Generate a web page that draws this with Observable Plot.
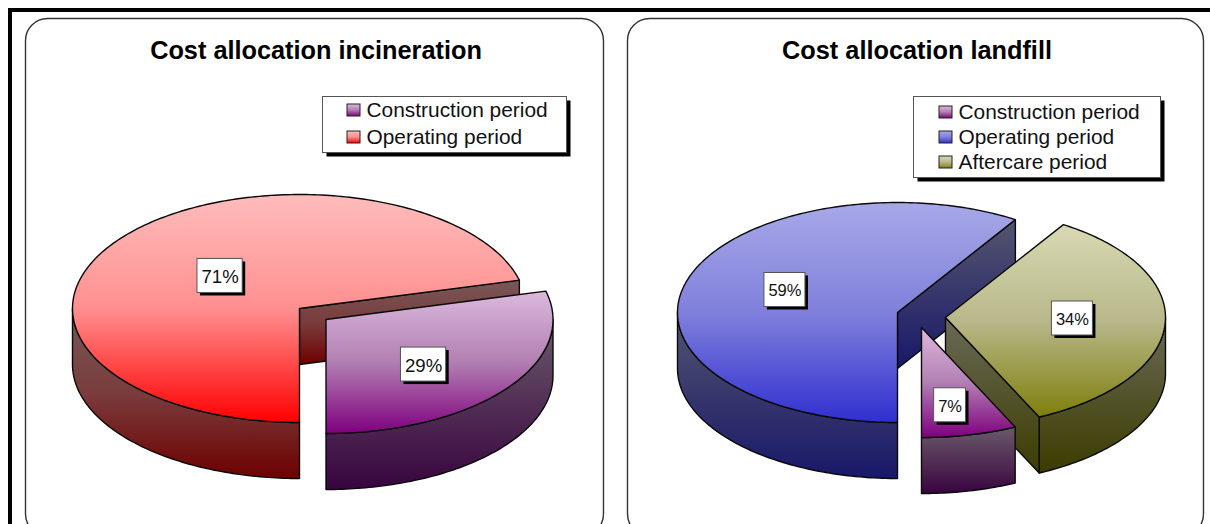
<!DOCTYPE html>
<html>
<head>
<meta charset="utf-8">
<script src="https://cdn.jsdelivr.net/npm/d3@7"></script>
<script src="https://cdn.jsdelivr.net/npm/@observablehq/plot@0.6"></script>
<style>
  html, body { margin: 0; padding: 0; background: #fff; }
  svg { display: block; }
</style>
</head>
<body>
<div id="chart"></div>
<script>
// Cost shares per period, in percent
const incinerationTitle = "Cost allocation incineration";
const incinerationPeriods = ["Construction period", "Operating period"];
const incinerationShares = [29, 71];

const landfillTitle = "Cost allocation landfill";
const landfillPeriods = ["Construction period", "Operating period", "Aftercare period"];
const landfillShares = [7, 59, 34];

// Face colours per period: top face and side wall, light to full
const palette = {
  "Construction period": {top: ["#dbb9dd", "#b27fb2", "#7f007f"], wall: ["#6b5a6b", "#38043f"]},
  "Operating period (incineration)": {top: ["#ffbcbc", "#ff8f8f", "#ff0000"], wall: ["#775858", "#7a3c3c", "#6e0000"]},
  "Operating period (landfill)": {top: ["#a8a8e8", "#8080dc", "#2f2fd0"], wall: ["#55556f", "#18186a"]},
  "Aftercare period": {top: ["#d9d9b4", "#b8b88a", "#7f7f0c"], wall: ["#6a6a58", "#3c3c00"]}
};

// Layout of the two pie panels, in pixels
const panels = [
  {
    title: incinerationTitle, periods: incinerationPeriods, shares: incinerationShares, key: ["Construction period", "Operating period (incineration)"],
    x1: 25.5, x2: 603.5, titleX: 315.5, rx: 227, ry: 114, depth: 56, labelFont: 18.6,
    placement: [
      {cx: 325.5, cy: 319, labelR: 0.584, turn: 4.8},
      {cx: 299, cy: 308, labelR: 0.4515, turn: 1.4}
    ],
    drawOrder: [1, 0],
    legend: {x1: 322.5, x2: 566.5, y1: 96.5, y2: 152.5, swatchX: 347, textX: 366, rows: [110, 137]}
  },
  {
    title: landfillTitle, periods: landfillPeriods, shares: landfillShares, key: ["Construction period", "Operating period (landfill)", "Aftercare period"],
    x1: 627.5, x2: 1203.5, titleX: 916.5, rx: 220, ry: 110, depth: 56, labelFont: 16.5,
    placement: [
      {cx: 921, cy: 327, labelR: 0.719, turn: 2.2},
      {cx: 897, cy: 312, labelR: 0.551, turn: 5.6},
      {cx: 945, cy: 317, labelR: 0.577, turn: -2.7}
    ],
    drawOrder: [1, 2, 0],
    legend: {x1: 913.5, x2: 1160.5, y1: 96.5, y2: 177.5, swatchX: 939, textX: 958, rows: [112, 137, 162]}
  }
];

const rad = (deg) => (deg * Math.PI) / 180;
const gradientId = (name, part) => `${part}-${name.replace(/[^a-z]+/gi, "-")}`;

// Turns shares into one exploded 3D wedge per period; the first wedge closes at due south.
function wedges(panel) {
  let angle = 180 - panel.shares[0] * 3.6;
  return panel.shares.map((share, i) => {
    const a0 = angle % 360;
    const a1 = a0 + share * 3.6;
    angle = a1;
    return {share, a0, a1, name: panel.key[i], ...panel.placement[i]};
  });
}

function rim(w, panel, from, to) {
  const n = Math.max(2, Math.ceil(to - from));
  return d3.range(n + 1).map((k) => {
    const a = rad(from + ((to - from) * k) / n);
    return {x: w.cx + panel.rx * Math.sin(a), y: w.cy - panel.ry * Math.cos(a)};
  });
}

const closed = (points) => [...points, points[0]];
const lowered = (points, depth) => points.map((p) => ({x: p.x, y: p.y + depth}));

// Polygons for one wedge: the visible outer wall, the visible cut wall and the top face
function wedgeFaces(w, panel) {
  const apex = {x: w.cx, y: w.cy};
  const faces = [];
  const from = Math.max(w.a0, 90);
  const to = Math.min(w.a1, 270);
  if (to > from) {
    const edge = rim(w, panel, from, to);
    faces.push({points: closed([...edge, ...lowered(edge, panel.depth).reverse()]), part: "wall"});
  }
  if (Math.sin(rad(w.a1)) > 1e-6) {
    const end = rim(w, panel, w.a1, w.a1)[0];
    faces.push({points: closed([apex, end, ...lowered([end, apex], panel.depth)]), part: "wall"});
  }
  if (Math.sin(rad(w.a0)) < -1e-6) {
    const start = rim(w, panel, w.a0, w.a0)[0];
    faces.push({points: closed([apex, start, ...lowered([start, apex], panel.depth)]), part: "wall"});
  }
  faces.push({points: closed([apex, ...rim(w, panel, w.a0, w.a1)]), part: "top"});
  return faces;
}

// Linear gradients used by the wedge faces and legend swatches
function gradientDefs() {
  const defs = d3.create("svg:defs");
  for (const [name, colors] of Object.entries(palette)) {
    for (const part of ["top", "wall"]) {
      const g = defs.append("linearGradient").attr("id", gradientId(name, part))
        .attr("x1", 0).attr("y1", 0).attr("x2", 0).attr("y2", 1);
      const stops = colors[part];
      stops.forEach((c, i) => {
        g.append("stop").attr("offset", i / (stops.length - 1)).attr("stop-color", c);
      });
    }
  }
  return defs.node();
}

const marks = [
  () => gradientDefs(),
  // Heavy outer frame along the top and left
  Plot.rect([{}], {x1: 8, x2: 1210, y1: 8, y2: 12, fill: "black"}),
  Plot.rect([{}], {x1: 8, x2: 12, y1: 8, y2: 524, fill: "black"})
];

for (const panel of panels) {
  const all = wedges(panel);
  const {legend} = panel;

  marks.push(
    Plot.rect([{}], {x1: panel.x1, x2: panel.x2, y1: 18.5, y2: 536, rx: 22, fill: "white", stroke: "#333", strokeWidth: 1.4}),
    Plot.text([panel.title], {
      x: panel.titleX, y: 50.5, text: (d) => d, fontFamily: "Liberation Sans", fontWeight: "bold",
      fontSize: 25.3, fill: "black", textAnchor: "middle", lineAnchor: "middle"
    }),
    // Legend box with its hard drop shadow
    Plot.rect([{}], {x1: legend.x1 + 4, x2: legend.x2 + 4, y1: legend.y1 + 4, y2: legend.y2 + 4, fill: "black"}),
    Plot.rect([{}], {x1: legend.x1, x2: legend.x2, y1: legend.y1, y2: legend.y2, fill: "white", stroke: "#555", strokeWidth: 1})
  );
  panel.periods.forEach((period, i) => {
    const row = legend.rows[i];
    marks.push(
      Plot.rect([{}], {
        x1: legend.swatchX, x2: legend.swatchX + 13, y1: row - 6, y2: row + 6,
        fill: `url(#${gradientId(panel.key[i], "top")})`, stroke: "#222", strokeWidth: 1
      }),
      Plot.text([period], {
        x: legend.textX, y: row, text: (d) => d, fontFamily: "Liberation Sans", fontSize: 20.9,
        fill: "#111", textAnchor: "start", lineAnchor: "middle"
      })
    );
  });

  // Wedges, back to front
  for (const i of panel.drawOrder) {
    const w = all[i];
    for (const face of wedgeFaces(w, panel)) {
      marks.push(Plot.line(face.points, {
        x: "x", y: "y", fill: `url(#${gradientId(w.name, face.part)})`,
        stroke: "#0a0a0a", strokeWidth: 1.4, strokeLinejoin: "round"
      }));
    }
  }

  // Percentage tags with a hard shadow, anchored on each wedge's mid-angle
  for (const w of all) {
    const mid = rad((w.a0 + w.a1) / 2 + w.turn);
    const x = w.cx + w.labelR * panel.rx * Math.sin(mid);
    const y = w.cy - w.labelR * panel.ry * Math.cos(mid);
    const text = `${w.share}%`;
    const half = (panel.labelFont * ((text.length - 1) * 0.556 + 0.889) + 8) / 2;
    const rise = 17;
    marks.push(
      Plot.rect([{}], {x1: x - half + 3, x2: x + half + 3, y1: y - rise + 3, y2: y + rise + 3, fill: "black"}),
      Plot.rect([{}], {x1: x - half, x2: x + half, y1: y - rise, y2: y + rise, fill: "white", stroke: "#555", strokeWidth: 1}),
      Plot.text([text], {
        x, y: y + 1, text: (d) => d, fontFamily: "Liberation Sans", fontSize: panel.labelFont,
        fill: "#111", textAnchor: "middle", lineAnchor: "middle"
      })
    );
  }
}

const chart = Plot.plot({
  width: 1210,
  height: 524,
  margin: 0,
  axis: null,
  x: {type: "linear", domain: [0, 1210], range: [0, 1210]},
  y: {type: "linear", domain: [0, 524], range: [0, 524]},
  marks
});
document.getElementById("chart").append(chart);
</script>
</body>
</html>
